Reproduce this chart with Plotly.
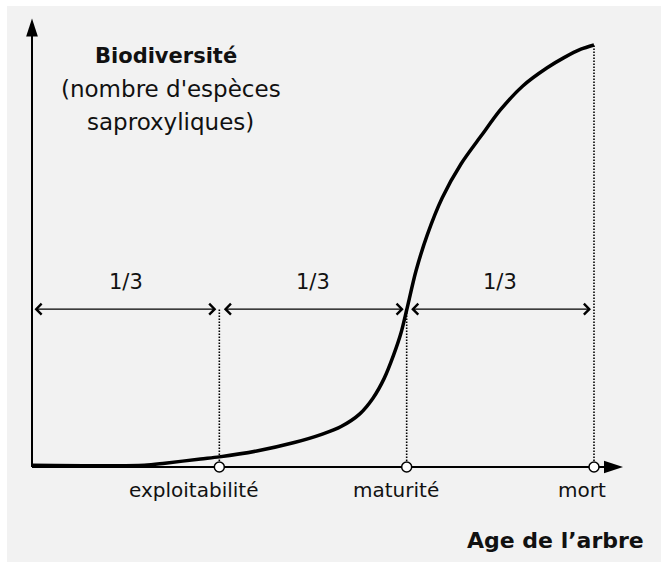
import plotly.graph_objects as go

# ---- data ----
age = [0, 0.6, 0.71, 0.9, 1.0, 1.2, 1.4, 1.55, 1.65, 1.75, 1.82, 1.88, 1.93, 1.97,
       2.0, 2.05, 2.11, 2.19, 2.29, 2.40, 2.50, 2.62, 2.75, 2.84, 2.93, 3.0]
biodiversity = [0.4, 0.4, 0.9, 1.9, 2.4, 3.8, 5.8, 7.8, 9.6, 12.6, 16.3, 21.0, 26.5, 31.8,
                37.2, 46.5, 55.0, 63.8, 71.8, 78.6, 84.6, 90.3, 94.6, 97.0, 99.0, 100]
stage_ages = [1, 2, 3]
stage_labels = ["exploitabilité", "maturité", "mort"]
third_labels = ["1/3", "1/3", "1/3"]

# ---- layout constants ----
arrow_level = 37.4
axis_x_end = 3.155
axis_y_end = 104.0
FONT = "DejaVu Sans"

fig = go.Figure()

# axes drawn as lines with arrow tips
fig.add_trace(go.Scatter(x=[0, 0], y=[0, axis_y_end], mode="lines",
                         line=dict(color="black", width=2), hoverinfo="skip"))
fig.add_trace(go.Scatter(x=[0, axis_x_end - 0.05], y=[0, 0], mode="lines",
                         line=dict(color="black", width=2), hoverinfo="skip"))
fig.add_trace(go.Scatter(x=[0], y=[axis_y_end + 2.3], mode="markers",
                         marker=dict(symbol="arrow", size=19, color="black", angle=0),
                         hoverinfo="skip"))
fig.add_trace(go.Scatter(x=[axis_x_end], y=[0], mode="markers",
                         marker=dict(symbol="arrow", size=20, color="black", angle=90),
                         hoverinfo="skip"))

# dotted verticals
for i, a in enumerate(stage_ages):
    top = arrow_level if i < len(stage_ages) - 1 else biodiversity[-1]
    fig.add_trace(go.Scatter(x=[a, a], y=[0, top], mode="lines",
                             line=dict(color="black", width=1.6, dash="1.5px,1.5px"),
                             hoverinfo="skip"))

# curve
fig.add_trace(go.Scatter(x=age, y=biodiversity, mode="lines",
                         line=dict(color="black", width=3.5, shape="spline", smoothing=0.8),
                         hoverinfo="skip"))

# stage circles
fig.add_trace(go.Scatter(x=stage_ages, y=[0] * len(stage_ages), mode="markers",
                         marker=dict(symbol="circle", size=10, color="white",
                                     line=dict(color="black", width=1.5)),
                         hoverinfo="skip"))

annotations = []
starts = [0] + stage_ages[:-1]
for k, (s, e, lab) in enumerate(zip(starts, stage_ages, third_labels)):
    annotations.append(dict(x=e, y=arrow_level, ax=s, ay=arrow_level,
                            xref="x", yref="y", axref="x", ayref="y", text="",
                            showarrow=True, arrowhead=4, startarrowhead=4,
                            arrowside="end+start", arrowwidth=1.4,
                            arrowsize=1.5, startarrowsize=1.5,
                            standoff=3, startstandoff=1 if k == 0 else 3,
                            arrowcolor="black"))
    annotations.append(dict(x=(s + e) / 2, y=arrow_level, xref="x", yref="y",
                            text=lab, showarrow=False, yshift=27,
                            font=dict(family=FONT, size=21, color="#111")))

label_shift = [-26, -11, -12]
for a, lab, dx in zip(stage_ages, stage_labels, label_shift):
    annotations.append(dict(x=a, y=0, xref="x", yref="y", text=lab, showarrow=False,
                            xshift=dx, yshift=-23,
                            font=dict(family=FONT, size=20, color="#111")))

annotations += [
    dict(x=0.715, y=97.4, xref="x", yref="y", text="<b>Biodiversité</b>", showarrow=False,
         font=dict(family=FONT, size=21, color="#111")),
    dict(x=0.742, y=89.6, xref="x", yref="y", text="(nombre d'espèces", showarrow=False,
         font=dict(family=FONT, size=23, color="#111")),
    dict(x=0.737, y=81.8, xref="x", yref="y", text="saproxyliques)", showarrow=False,
         font=dict(family=FONT, size=23, color="#111")),
    dict(x=2.792, y=-17.5, xref="x", yref="y", text="<b>Age de l’arbre</b>", showarrow=False,
         font=dict(family=FONT, size=22, color="#111")),
]

fig.update_layout(
    width=661, height=562,
    margin=dict(l=7, r=0, t=6, b=0),
    paper_bgcolor="white", plot_bgcolor="#f2f2f2",
    showlegend=False,
    xaxis=dict(range=[-0.13345, 3.35765], visible=False, fixedrange=True),
    yaxis=dict(range=[-22.51, 109.24], visible=False, fixedrange=True),
    annotations=annotations,
)

fig.write_html("out.html", config={"displayModeBar": False},
               post_script="document.body.style.margin='0';")
